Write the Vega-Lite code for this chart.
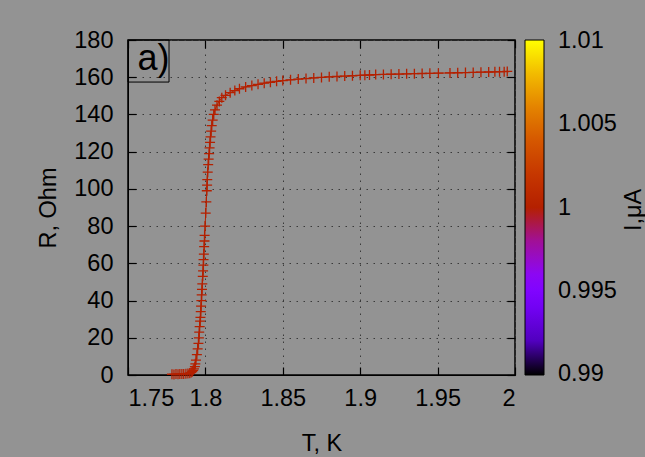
{
  "$schema": "https://vega.github.io/schema/vega-lite/v6.json",
  "width": 387,
  "height": 335,
  "autosize": {"type": "none"},
  "padding": {"left": 128, "top": 40, "right": 130, "bottom": 82},
  "background": "#939393",
  "config": {
    "font": "Liberation Sans",
    "view": {"stroke": "black", "strokeWidth": 1.5, "fill": "#939393"},
    "axis": {"labelFont": "Liberation Sans", "titleFont": "Liberation Sans", "labelFontSize": 23.5, "titleFontSize": 23.5, "labelColor": "black", "titleColor": "black", "titleFontWeight": "normal", "domainColor": "black", "tickColor": "black", "tickWidth": 1.2, "gridColor": "#3a3a3a", "gridDash": [1.5, 5.5], "gridWidth": 1},
    "legend": {"labelFont": "Liberation Sans", "titleFont": "Liberation Sans", "labelFontSize": 23.5, "titleFontSize": 23.5, "labelColor": "black", "titleColor": "black", "titleFontWeight": "normal"}
  },
  "datasets": {
    "curve": [
      {"T": 1.7784, "R": 0.4, "I": 1}, {"T": 1.7797, "R": 0.3, "I": 1}, {"T": 1.781, "R": 0.5, "I": 1}, {"T": 1.7823, "R": 0.4, "I": 1}, {"T": 1.7835, "R": 0.5, "I": 1}, {"T": 1.7848, "R": 0.6, "I": 1}, {"T": 1.786, "R": 0.5, "I": 1}, {"T": 1.7874, "R": 0.7, "I": 1}, {"T": 1.7887, "R": 0.8, "I": 1}, {"T": 1.7899, "R": 1.0, "I": 1}, {"T": 1.7908, "R": 1.3, "I": 1}, {"T": 1.7915, "R": 1.8, "I": 1},
      {"T": 1.7921, "R": 2.5, "I": 1}, {"T": 1.7926, "R": 3.3, "I": 1}, {"T": 1.7932, "R": 4.5, "I": 1}, {"T": 1.7935, "R": 6, "I": 1}, {"T": 1.7939, "R": 8, "I": 1}, {"T": 1.7945, "R": 11, "I": 1}, {"T": 1.795, "R": 14, "I": 1}, {"T": 1.7955, "R": 17, "I": 1}, {"T": 1.7958, "R": 20, "I": 1}, {"T": 1.796, "R": 23, "I": 1}, {"T": 1.7963, "R": 26, "I": 1}, {"T": 1.7966, "R": 29, "I": 1}, {"T": 1.7968, "R": 31, "I": 1}, {"T": 1.797, "R": 34, "I": 1}, {"T": 1.7972, "R": 37, "I": 1}, {"T": 1.7974, "R": 40, "I": 1}, {"T": 1.7976, "R": 43, "I": 1}, {"T": 1.7978, "R": 46, "I": 1}, {"T": 1.798, "R": 49, "I": 1}, {"T": 1.7983, "R": 53, "I": 1}, {"T": 1.7985, "R": 56, "I": 1}, {"T": 1.7987, "R": 59, "I": 1}, {"T": 1.7988, "R": 62, "I": 1}, {"T": 1.799, "R": 65, "I": 1}, {"T": 1.7992, "R": 69, "I": 1}, {"T": 1.7994, "R": 72, "I": 1}, {"T": 1.7995, "R": 75, "I": 1}, {"T": 1.7998, "R": 80, "I": 1}, {"T": 1.8002, "R": 87, "I": 1}, {"T": 1.8006, "R": 93, "I": 1}, {"T": 1.8009, "R": 99, "I": 1}, {"T": 1.8011, "R": 102, "I": 1}, {"T": 1.8012, "R": 105, "I": 1}, {"T": 1.8015, "R": 109, "I": 1}, {"T": 1.8018, "R": 113, "I": 1}, {"T": 1.8021, "R": 116, "I": 1}, {"T": 1.8024, "R": 119, "I": 1}, {"T": 1.8027, "R": 122, "I": 1}, {"T": 1.803, "R": 125, "I": 1}, {"T": 1.8033, "R": 128, "I": 1}, {"T": 1.8037, "R": 131, "I": 1}, {"T": 1.8041, "R": 134, "I": 1}, {"T": 1.8047, "R": 137, "I": 1}, {"T": 1.8054, "R": 140, "I": 1}, {"T": 1.8062, "R": 142.5, "I": 1}, {"T": 1.8075, "R": 145, "I": 1}, {"T": 1.809, "R": 147, "I": 1}, {"T": 1.8106, "R": 149, "I": 1}, {"T": 1.813, "R": 150.3, "I": 1}, {"T": 1.816, "R": 151.7, "I": 1}, {"T": 1.819, "R": 152.8, "I": 1}, {"T": 1.822, "R": 153.8, "I": 1}, {"T": 1.826, "R": 154.8, "I": 1}, {"T": 1.83, "R": 155.5, "I": 1}, {"T": 1.834, "R": 156.2, "I": 1}, {"T": 1.838, "R": 156.8, "I": 1}, {"T": 1.842, "R": 157.3, "I": 1}, {"T": 1.846, "R": 157.8, "I": 1}, {"T": 1.85, "R": 158.2, "I": 1}, {"T": 1.855, "R": 158.6, "I": 1}, {"T": 1.86, "R": 159, "I": 1}, {"T": 1.865, "R": 159.3, "I": 1}, {"T": 1.87, "R": 159.6, "I": 1}, {"T": 1.875, "R": 159.9, "I": 1}, {"T": 1.88, "R": 160.2, "I": 1}, {"T": 1.885, "R": 160.4, "I": 1}, {"T": 1.89, "R": 160.6, "I": 1}, {"T": 1.895, "R": 160.8, "I": 1}, {"T": 1.9, "R": 161, "I": 1}, {"T": 1.903, "R": 161.1, "I": 1}, {"T": 1.906, "R": 161.2, "I": 1}, {"T": 1.91, "R": 161.4, "I": 1}, {"T": 1.915, "R": 161.5, "I": 1}, {"T": 1.92, "R": 161.6, "I": 1}, {"T": 1.925, "R": 161.7, "I": 1}, {"T": 1.93, "R": 161.8, "I": 1}, {"T": 1.935, "R": 161.9, "I": 1}, {"T": 1.94, "R": 162, "I": 1}, {"T": 1.945, "R": 162.1, "I": 1}, {"T": 1.9505, "R": 162.2, "I": 1}, {"T": 1.958, "R": 162.3, "I": 1}, {"T": 1.963, "R": 162.4, "I": 1}, {"T": 1.968, "R": 162.5, "I": 1}, {"T": 1.973, "R": 162.6, "I": 1}, {"T": 1.978, "R": 162.7, "I": 1}, {"T": 1.983, "R": 162.8, "I": 1}, {"T": 1.987, "R": 162.9, "I": 1}, {"T": 1.99, "R": 163, "I": 1}, {"T": 1.993, "R": 163, "I": 1}, {"T": 1.995, "R": 163.1, "I": 1}
    ],
    "label": [{"T0": 1.75, "T1": 1.7765, "R0": 157.4, "R1": 180, "Tc": 1.7665, "Rc": 169.8, "text": "a)"}],
    "cbtitle": [{"T": 2.0771, "R": 88.7, "text": "I,μA"}]
  },
  "layer": [
    {
      "data": {"name": "curve"},
      "mark": {"type": "line", "color": "#b42000", "strokeWidth": 1},
      "encoding": {
        "x": {"field": "T", "type": "quantitative", "scale": {"domain": [1.75, 2], "nice": false, "zero": false}, "title": "T, K",
              "axis": {"orient": "bottom", "values": [1.75, 1.8, 1.85, 1.9, 1.95, 2], "format": "~g", "tickSize": -8, "labelPadding": 19, "titlePadding": 22, "grid": true}},
        "y": {"field": "R", "type": "quantitative", "scale": {"domain": [0, 180], "nice": false}, "title": "R, Ohm",
              "axis": {"orient": "left", "values": [0, 20, 40, 60, 80, 100, 120, 140, 160, 180], "tickSize": -8, "labelPadding": 23, "titlePadding": 13, "grid": true}}
      }
    },
    {
      "data": {"name": "curve"},
      "mark": {"type": "point", "shape": "M-1,0L1,0M0,-1L0,1", "filled": false, "strokeWidth": 1.3, "size": 100, "opacity": 1},
      "encoding": {
        "x": {"field": "T", "type": "quantitative", "scale": {"domain": [1.75, 2], "nice": false, "zero": false}, "axis": {"orient": "top", "values": [1.75, 1.8, 1.85, 1.9, 1.95, 2], "labels": false, "tickSize": -8, "domain": false, "grid": false, "title": null}},
        "y": {"field": "R", "type": "quantitative", "scale": {"domain": [0, 180], "nice": false}, "axis": {"orient": "right", "values": [0, 20, 40, 60, 80, 100, 120, 140, 160, 180], "labels": false, "tickSize": -8, "domain": false, "grid": false, "title": null}},
        "color": {"field": "I", "type": "quantitative", "title": null,
          "scale": {"domain": [0.98995, 0.992, 0.994, 0.995, 0.996, 0.998, 1, 1.002, 1.004, 1.006, 1.008, 1.01005],
                    "range": ["#000000", "#5100bf", "#7202f3", "#8004ff", "#8c07f3", "#a11096", "#b42000", "#c63700", "#d55700", "#e48300", "#f2ba00", "#ffff00"],
                    "interpolate": "rgb"},
          "legend": {"orient": "right", "offset": 9, "padding": 0, "type": "gradient", "direction": "vertical", "gradientLength": 335, "gradientThickness": 19, "gradientStrokeColor": "black", "gradientStrokeWidth": 1, "values": [0.99, 0.995, 1, 1.005, 1.01], "format": "~g", "labelOffset": 14, "labelBaseline": "middle"}}
      }
    },
    {
      "data": {"name": "label"},
      "mark": {"type": "rect", "fill": null, "stroke": "black", "strokeWidth": 1},
      "encoding": {
        "x": {"field": "T0", "type": "quantitative", "scale": {"domain": [1.75, 2], "nice": false, "zero": false}, "axis": null},
        "x2": {"field": "T1"},
        "y": {"field": "R0", "type": "quantitative", "scale": {"domain": [0, 180], "nice": false}, "axis": null},
        "y2": {"field": "R1"}
      }
    },
    {
      "data": {"name": "label"},
      "mark": {"type": "text", "fontSize": 36, "font": "Liberation Sans", "color": "black", "baseline": "middle", "align": "center"},
      "encoding": {
        "x": {"field": "Tc", "type": "quantitative", "scale": {"domain": [1.75, 2], "nice": false, "zero": false}, "axis": null},
        "y": {"field": "Rc", "type": "quantitative", "scale": {"domain": [0, 180], "nice": false}, "axis": null},
        "text": {"field": "text"}
      }
    },
    {
      "data": {"name": "cbtitle"},
      "mark": {"type": "text", "fontSize": 23.5, "font": "Liberation Sans", "color": "black", "baseline": "middle", "align": "center", "angle": 270, "clip": false},
      "encoding": {
        "x": {"field": "T", "type": "quantitative", "scale": {"domain": [1.75, 2], "nice": false, "zero": false}, "axis": null},
        "y": {"field": "R", "type": "quantitative", "scale": {"domain": [0, 180], "nice": false}, "axis": null},
        "text": {"field": "text"}
      }
    }
  ],
  "resolve": {"axis": {"x": "independent", "y": "independent"}}
}
